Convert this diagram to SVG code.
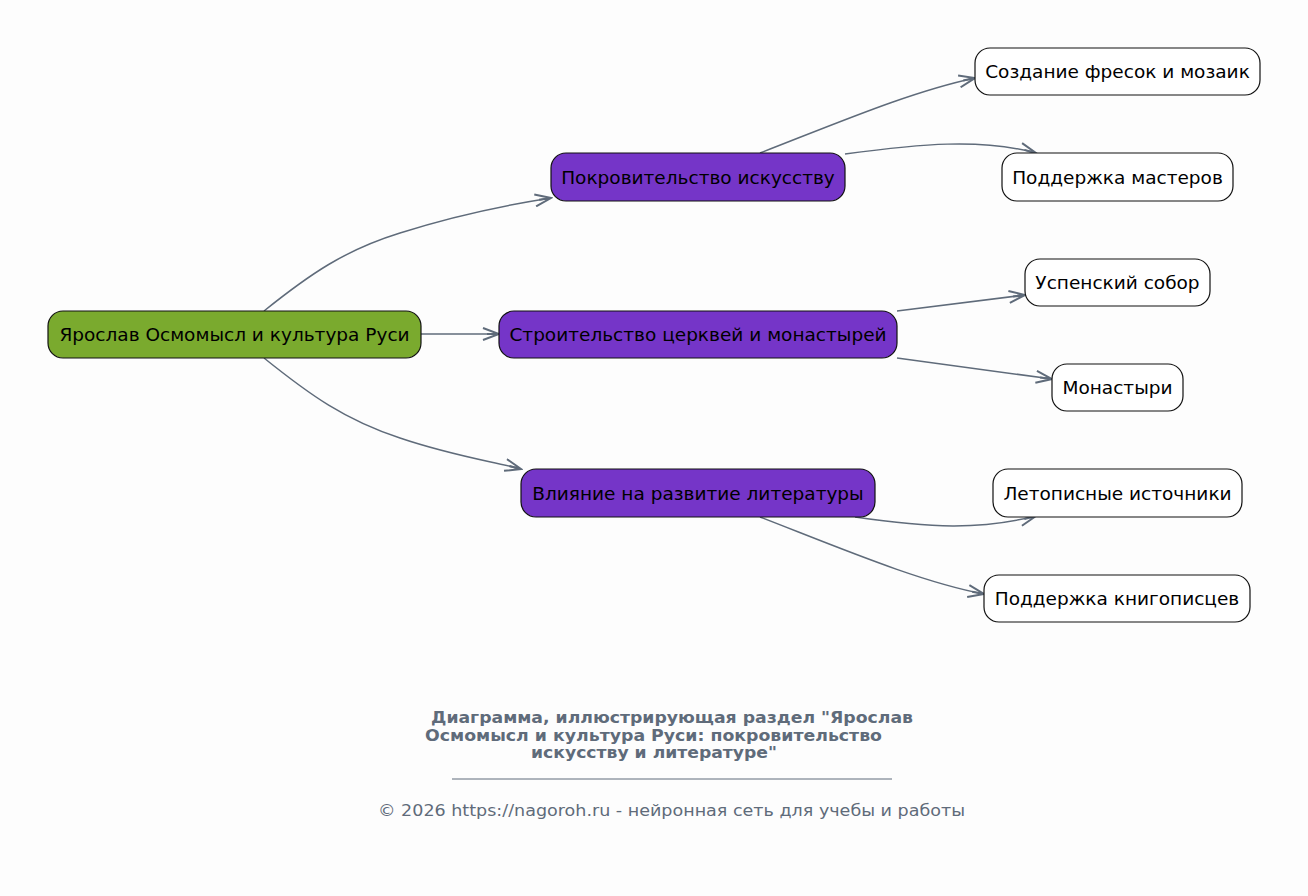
<svg xmlns="http://www.w3.org/2000/svg" width="1308" height="896" viewBox="0 0 1308 896">
<style>
.n rect{stroke:#111;stroke-width:1.2}
.n text{font-family:"DejaVu Sans",sans-serif;font-size:18.5px;fill:#000;text-anchor:middle;dominant-baseline:central}
.root rect{fill:#7aaa2e}
.mid rect{fill:#7535c8}
.leaf rect{fill:#fff}
#edges path{fill:none;stroke:#5f6b7a;stroke-width:1.5;marker-end:url(#ah)}
.cap{font-family:"DejaVu Sans",sans-serif;fill:#5f6b7a}
</style>
<defs>
<marker id="ah" viewBox="0 0 20 14" refX="18" refY="7" markerWidth="20" markerHeight="14" markerUnits="userSpaceOnUse" orient="auto">
<path d="M2,1 L18,7 L2,13 M18,7 L6,7" fill="none" stroke="#5f6b7a" stroke-width="2"/>
</marker>
</defs>
<rect width="1308" height="896" fill="#fdfdfd"/>
<g id="edges">
<path d="M264,311 C310,274 345,250 400,233 C450,217 500,206 551,198"/>
<path d="M421,334 L499,334"/>
<path d="M264,358 C310,395 345,420 400,438 C450,455 490,461 521,469"/>
<path d="M760,153 C840,122 910,92 975,78"/>
<path d="M845,154 C920,144 980,138 1036,153"/>
<path d="M897,311 L1025,295"/>
<path d="M897,358 L1052,379"/>
<path d="M855,517 C930,528 980,530 1036,516"/>
<path d="M760,517 C840,548 920,582 984,594"/>
</g>
<g id="root" class="n root"><rect x="48" y="311" width="373" height="47" rx="15"/><text x="234.5" y="334.5">Ярослав Осмомысл и культура Руси</text></g>
<g id="art" class="n mid"><rect x="551" y="153" width="294" height="48" rx="15"/><text x="698" y="177">Покровительство искусству</text></g>
<g id="build" class="n mid"><rect x="499" y="311" width="398" height="47" rx="15"/><text x="698" y="334.5">Строительство церквей и монастырей</text></g>
<g id="lit" class="n mid"><rect x="521" y="469" width="354" height="48" rx="15"/><text x="698" y="493">Влияние на развитие литературы</text></g>
<g id="fresco" class="n leaf"><rect x="975" y="48" width="285" height="47" rx="15"/><text x="1117.5" y="71.5">Создание фресок и мозаик</text></g>
<g id="masters" class="n leaf"><rect x="1002" y="153" width="231" height="48" rx="15"/><text x="1117.5" y="177">Поддержка мастеров</text></g>
<g id="uspensky" class="n leaf"><rect x="1025" y="259" width="185" height="47" rx="15"/><text x="1117.5" y="282.5">Успенский собор</text></g>
<g id="monasteries" class="n leaf"><rect x="1052" y="364" width="131" height="47" rx="15"/><text x="1117.5" y="387.5">Монастыри</text></g>
<g id="chronicles" class="n leaf"><rect x="993" y="469" width="249" height="48" rx="15"/><text x="1117.5" y="493">Летописные источники</text></g>
<g id="scribes" class="n leaf"><rect x="984" y="575" width="266" height="47" rx="15"/><text x="1117" y="598.5">Поддержка книгописцев</text></g>
<g id="caption">
<text class="cap" font-size="15" font-weight="bold" x="431" y="723" textLength="482" lengthAdjust="spacingAndGlyphs">Диаграмма, иллюстрирующая раздел "Ярослав</text>
<text class="cap" font-size="15" font-weight="bold" x="425" y="740.5" textLength="457" lengthAdjust="spacingAndGlyphs">Осмомысл и культура Руси: покровительство</text>
<text class="cap" font-size="15" font-weight="bold" x="531" y="758" textLength="246" lengthAdjust="spacingAndGlyphs">искусству и литературе"</text>
<line x1="452" y1="779" x2="892" y2="779" stroke="#5f6b7a" stroke-width="1"/>
<text class="cap" font-size="16" x="378" y="816" textLength="587" lengthAdjust="spacingAndGlyphs">© 2026 https://nagoroh.ru - нейронная сеть для учебы и работы</text>
</g>
</svg>
